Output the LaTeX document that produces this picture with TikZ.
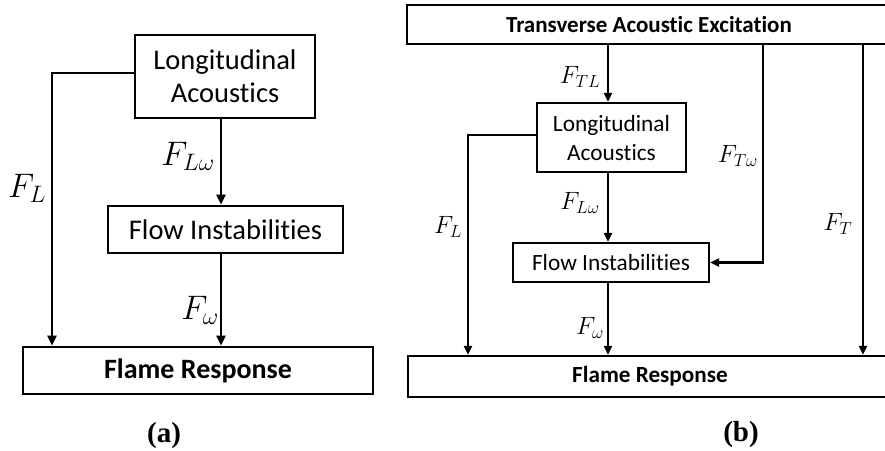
\RequirePackage{fix-cm}
\documentclass[tikz,border=0pt]{standalone}
\usepackage{fontspec}
\setmainfont{Carlito}[Ligatures=NoCommon]
\newfontfamily\capfont{Liberation Serif}
\usetikzlibrary{arrows.meta,calc}
\begin{document}
\begin{tikzpicture}[x=1pt,y=-1pt,
  boxa/.style={draw,line width=2.6pt,inner sep=0pt,align=center,font=\fontsize{28.5}{33}\selectfont},
  boxb/.style={draw,line width=2.4pt,inner sep=0pt,align=center,font=\fontsize{23.3}{29}\selectfont},
  arra/.style={line width=2.4pt,-{Triangle[length=10pt,width=9pt]}},
  arrb/.style={line width=2.2pt,-{Triangle[length=9pt,width=8pt]}},
  labA/.style={font=\fontsize{34}{40}\selectfont},
  labB/.style={font=\fontsize{25}{30}\selectfont},
  captext/.style={font=\capfont\bfseries\fontsize{29}{34}\selectfont}]
\useasboundingbox (0,0) rectangle (885,450);
\fill[white] (0,0) rectangle (885,450);
% ---------- panel (a)
\node[boxa,minimum width=180pt,minimum height=83pt] (LA) at (225,76.5) {Longitudinal\\Acoustics};
\node[boxa,minimum width=235pt,minimum height=47pt] (FI) at (225.5,229.5) {Flow Instabilities};
\node[boxa,minimum width=350pt,minimum height=47pt,font=\bfseries\fontsize{28}{32}\selectfont] (FR) at (198,370.5) {Flame Response};
\coordinate (xa) at (221,0);
\coordinate (xLa) at (52,0);
\draw[arra] ([yshift=3.5pt]LA.west) -| (FR.north -| xLa);
\draw[arra] (LA.south -| xa) -- (FI.north -| xa);
\draw[arra] (FI.south -| xa) -- (FR.north -| xa);
\node[labA] (lFL) at (27,188) {$F_L$};
\node[labA] (lFLw) at (188,156) {$F_{L\omega}$};
\node[labA] (lFw) at (200,310) {$F_{\omega}$};
\node[captext] (capa) at (164,436) {(a)};
% ---------- panel (b)
\node[boxb,minimum width=484pt,minimum height=39pt,font=\bfseries\fontsize{23}{27}\selectfont] (TAE) at (649,24.5) {Transverse Acoustic Excitation};
\node[boxb,minimum width=149pt,minimum height=69pt] (LA2) at (611.5,137.5) {Longitudinal\\Acoustics};
\node[boxb,minimum width=196pt,minimum height=39pt] (FI2) at (611,262.5) {Flow Instabilities};
\node[boxb,minimum width=484pt,minimum height=41pt,font=\bfseries\fontsize{23.2}{28}\selectfont] (FR2) at (650,376.5) {Flame Response};
\coordinate (xb) at (608,0);
\coordinate (xLb) at (468,0);
\coordinate (xTw) at (763,0);
\coordinate (xT) at (863,0);
\draw[arrb] (TAE.south -| xb) -- (LA2.north -| xb);
\draw[arrb] (LA2.south -| xb) -- (FI2.north -| xb);
\draw[arrb] (FI2.south -| xb) -- (FR2.north -| xb);
\draw[arrb] ([yshift=2.5pt]LA2.west) -| (FR2.north -| xLb);
\draw[arrb] (TAE.south -| xTw) |- (FI2.east);
\draw[arrb] (TAE.south -| xT) -- (FR2.north -| xT);
\node[labB] (lFTL) at (580,77) {$F_{TL}$};
\node[labB] (lFTw) at (738,156) {$F_{T\omega}$};
\node[labB] (lFL2) at (448,227) {$F_L$};
\node[labB] (lFLw2) at (580,203) {$F_{L\omega}$};
\node[labB] (lFw2) at (590,328) {$F_{\omega}$};
\node[labB] (lFT) at (838,224) {$F_T$};
\node[captext] (capb) at (741,435) {(b)};
\end{tikzpicture}
\end{document}
